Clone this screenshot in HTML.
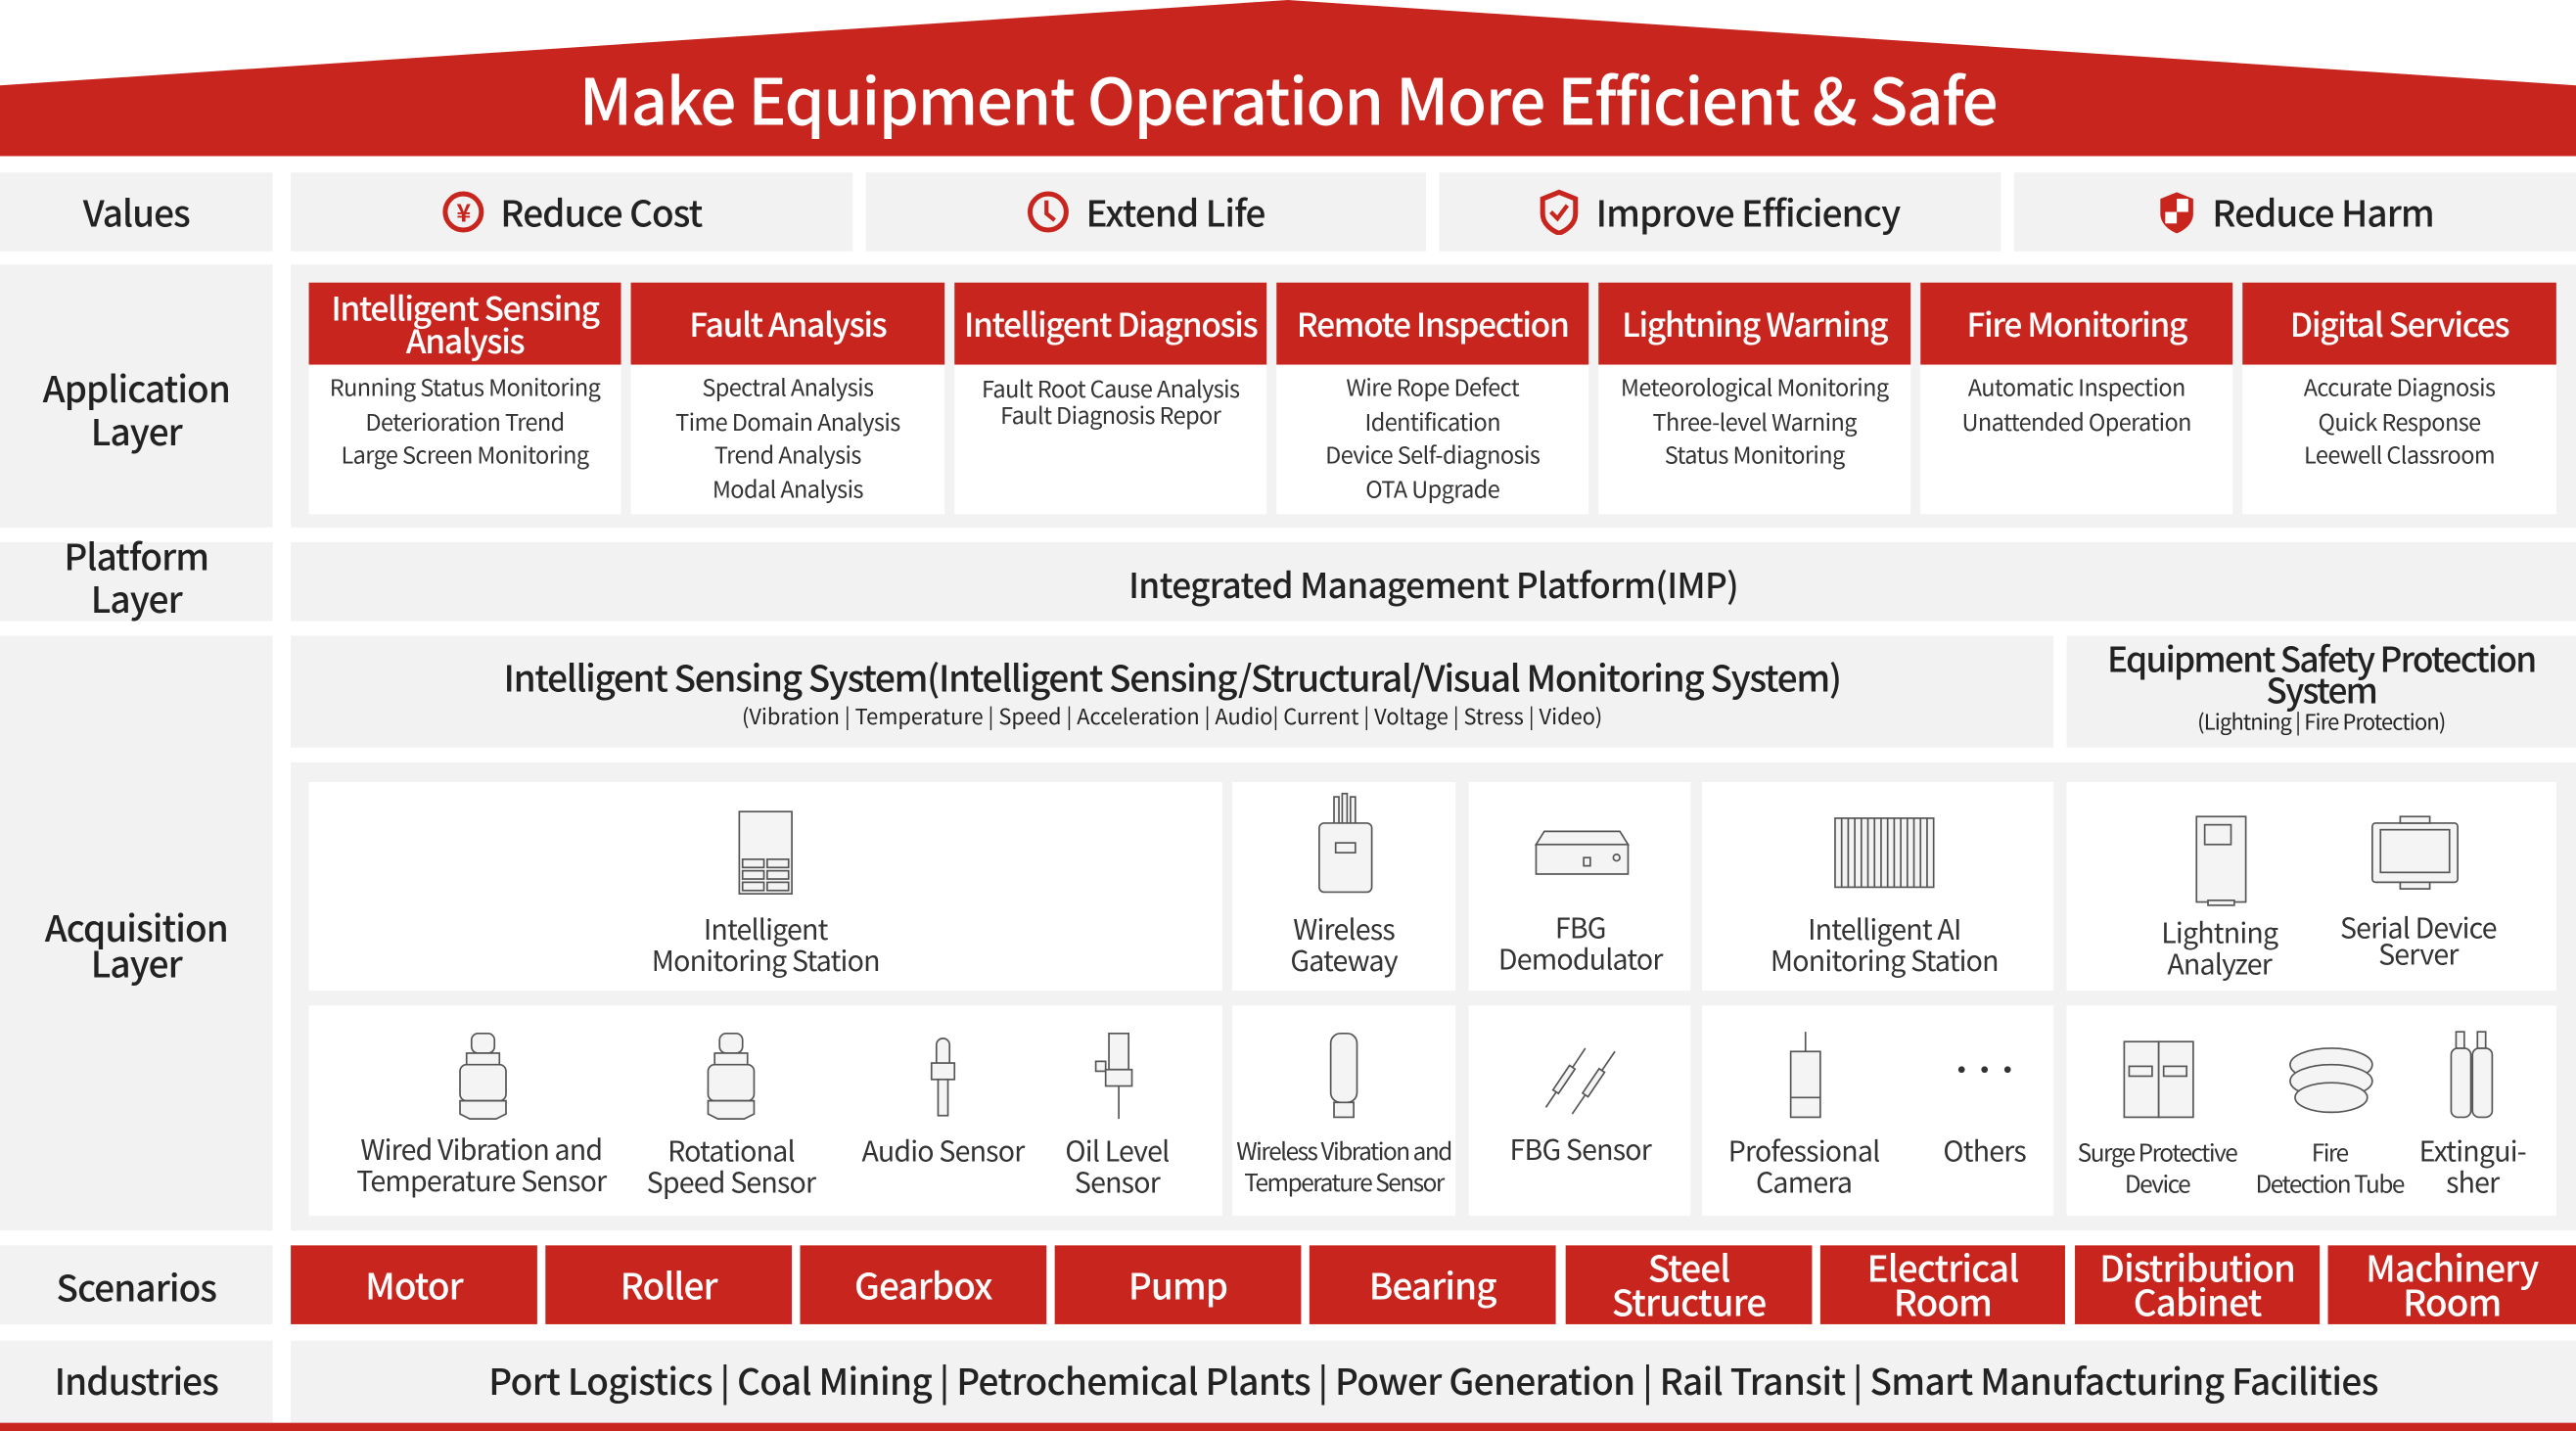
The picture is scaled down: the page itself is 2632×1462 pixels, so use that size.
<!DOCTYPE html>
<html><head><meta charset="utf-8"><style>
*{margin:0;padding:0;box-sizing:border-box}
html,body{width:2632px;height:1462px;overflow:hidden;background:#fff}
#s{position:absolute;left:0;top:0;width:1568px;height:871px;transform:scale(1.67857);transform-origin:0 0;font-family:"Noto Sans CJK SC","Liberation Sans",sans-serif;color:#222;letter-spacing:-0.03em}
.a{position:absolute}
.g{position:absolute;background:#f2f2f2}
.w{position:absolute;background:#fff}
.r{position:absolute;background:#c9251f;color:#fff}
.c{display:flex;align-items:center;justify-content:center;text-align:center}
.lbl{font-size:22px;line-height:26px;font-weight:500;letter-spacing:-0.025em}
.hd{font-size:20px;line-height:20px;font-weight:500;letter-spacing:-0.04em}
.bd{position:absolute;top:222px;height:91px;background:#fff;font-size:14px;line-height:20.5px;text-align:center;padding-top:4px;color:#333;letter-spacing:-0.025em}
.dv{position:absolute;text-align:center;font-size:17px;line-height:19px;color:#333;transform:translateX(-50%);white-space:nowrap}
.sm{font-size:14.5px;letter-spacing:-0.06em}
svg.ic{position:absolute;overflow:visible}
svg.ic *{stroke:#555;stroke-width:1;fill:#f4f4f4}
</style></head><body><div id="s">
<svg class="a" style="left:0;top:0" width="1568" height="100"><polygon points="0,52 784,0 1568,52 1568,95 0,95" fill="#c9251f"/></svg>
<div class="a c" style="left:0;top:36px;width:1568px;height:48px;color:#fff;font-size:39px;font-weight:500;letter-spacing:-0.022em">Make Equipment Operation More Efficient &amp; Safe</div>

<div class="g c lbl" style="left:0;top:105px;width:166px;height:48px">Values</div>
<div class="g c lbl" style="left:177px;top:105px;width:342px;height:48px"><svg width="26" height="26" style="margin-right:10px"><circle cx="13" cy="13" r="11" fill="none" stroke="#c9251f" stroke-width="3"/><text x="13" y="19" font-size="15" fill="#c9251f" text-anchor="middle" font-weight="bold">¥</text></svg>Reduce Cost</div>
<div class="g c lbl" style="left:527px;top:105px;width:341px;height:48px"><svg width="26" height="26" style="margin-right:10px"><circle cx="13" cy="13" r="11" fill="none" stroke="#c9251f" stroke-width="3"/><path d="M12 6v8l5 4" fill="none" stroke="#c9251f" stroke-width="2.5"/></svg>Extend Life</div>
<div class="g c lbl" style="left:876px;top:105px;width:342px;height:48px"><svg width="24" height="28" style="margin-right:10px"><path d="M12 2L22 6v9c0 6-5 10-10 12C7 25 2 21 2 15V6z" fill="none" stroke="#c9251f" stroke-width="3"/><path d="M7 14l4 4 6-8" fill="none" stroke="#c9251f" stroke-width="2.5"/></svg>Improve Efficiency</div>
<div class="g c lbl" style="left:1226px;top:105px;width:342px;height:48px"><svg width="24" height="28" style="margin-right:10px"><path d="M12 2L22 6v9c0 6-5 10-10 12C7 25 2 21 2 15V6z" fill="#c9251f"/><rect x="12" y="6" width="7" height="8" fill="#fff"/><rect x="5" y="14" width="7" height="7" fill="#fff"/></svg>Reduce Harm</div>

<div class="g c lbl" style="left:0;top:161px;width:166px;height:160px;padding-top:15px">Application<br>Layer</div>
<div class="g" style="left:177px;top:161px;width:1391px;height:160px"></div>
<div class="r c hd" style="left:188px;top:172px;width:190px;height:50px">Intelligent Sensing<br>Analysis</div>
<div class="r c hd" style="left:384px;top:172px;width:191px;height:50px">Fault Analysis</div>
<div class="r c hd" style="left:581px;top:172px;width:190px;height:50px">Intelligent Diagnosis</div>
<div class="r c hd" style="left:777px;top:172px;width:190px;height:50px">Remote Inspection</div>
<div class="r c hd" style="left:973px;top:172px;width:190px;height:50px">Lightning Warning</div>
<div class="r c hd" style="left:1169px;top:172px;width:190px;height:50px">Fire Monitoring</div>
<div class="r c hd" style="left:1365px;top:172px;width:191px;height:50px">Digital Services</div>
<div class="bd" style="left:188px;width:190px">Running Status Monitoring<br>Deterioration Trend<br>Large Screen Monitoring</div>
<div class="bd" style="left:384px;width:191px">Spectral Analysis<br>Time Domain Analysis<br>Trend Analysis<br>Modal Analysis</div>
<div class="bd" style="left:581px;width:190px;line-height:16px;padding-top:7px">Fault Root Cause Analysis<br>Fault Diagnosis Repor</div>
<div class="bd" style="left:777px;width:190px">Wire Rope Defect<br>Identification<br>Device Self-diagnosis<br>OTA Upgrade</div>
<div class="bd" style="left:973px;width:190px">Meteorological Monitoring<br>Three-level Warning<br>Status Monitoring</div>
<div class="bd" style="left:1169px;width:190px">Automatic Inspection<br>Unattended Operation</div>
<div class="bd" style="left:1365px;width:191px">Accurate Diagnosis<br>Quick Response<br>Leewell Classroom</div>

<div class="g c lbl" style="left:0;top:330px;width:166px;height:48px;padding-bottom:6px">Platform<br>Layer</div>
<div class="g c" style="left:177px;top:330px;width:1391px;height:48px;font-size:21px;font-weight:500;padding-top:4px;letter-spacing:-0.02em">Integrated Management Platform(IMP)</div>

<div class="g c lbl" style="left:0;top:387px;width:166px;height:362px;padding-top:14px;line-height:22px">Acquisition<br>Layer</div>
<div class="g" style="left:177px;top:387px;width:1073px;height:68px;text-align:center"><div style="font-size:22px;line-height:26px;margin-top:12px;font-weight:500;letter-spacing:-0.035em">Intelligent Sensing System(Intelligent Sensing/Structural/Visual Monitoring System)</div><div style="font-size:13px;line-height:16px;margin-top:3px;letter-spacing:0">(Vibration | Temperature | Speed | Acceleration | Audio| Current | Voltage | Stress | Video)</div></div>
<div class="g" style="left:1258px;top:387px;width:310px;height:68px;text-align:center"><div style="font-size:21px;line-height:19px;margin-top:5px;letter-spacing:-0.05em;font-weight:500">Equipment Safety Protection<br>System</div><div style="font-size:13px;line-height:16px;margin-top:1px">(Lightning | Fire Protection)</div></div>
<div class="g" style="left:177px;top:464px;width:1391px;height:285px"></div>
<div class="w" style="left:188px;top:476px;width:556px;height:127px"></div>
<div class="w" style="left:750px;top:476px;width:136px;height:127px"></div>
<div class="w" style="left:894px;top:476px;width:135px;height:127px"></div>
<div class="w" style="left:1036px;top:476px;width:214px;height:127px"></div>
<div class="w" style="left:1258px;top:476px;width:298px;height:127px"></div>
<div class="w" style="left:188px;top:612px;width:556px;height:128px"></div>
<div class="w" style="left:750px;top:612px;width:136px;height:128px"></div>
<div class="w" style="left:894px;top:612px;width:135px;height:128px"></div>
<div class="w" style="left:1036px;top:612px;width:214px;height:128px"></div>
<div class="w" style="left:1258px;top:612px;width:298px;height:128px"></div>

<!-- icons top -->
<svg class="ic" style="left:449px;top:493px" width="34" height="52"><rect x="1" y="1" width="32" height="50"/><rect x="3" y="30" width="13" height="5"/><rect x="18" y="30" width="13" height="5"/><rect x="3" y="37" width="13" height="5"/><rect x="18" y="37" width="13" height="5"/><rect x="3" y="44" width="13" height="5"/><rect x="18" y="44" width="13" height="5"/></svg>
<svg class="ic" style="left:802px;top:483px" width="34" height="62"><rect x="10" y="2" width="3" height="18"/><rect x="15" y="0" width="3" height="20"/><rect x="20" y="2" width="3" height="18"/><rect x="1" y="18" width="32" height="42" rx="3"/><rect x="11" y="30" width="12" height="6"/></svg>
<svg class="ic" style="left:934px;top:505px" width="58" height="28"><path d="M6 1h46l5 8H1z"/><rect x="1" y="9" width="56" height="18"/><rect x="30" y="17" width="4" height="5"/><circle cx="50" cy="17" r="2"/></svg>
<svg class="ic" style="left:1113px;top:497px" width="68" height="44"><rect x="4" y="1" width="60" height="42"/><path d="M8 1v42M12 1v42M16 1v42M20 1v42M24 1v42M28 1v42M32 1v42M36 1v42M40 1v42M44 1v42M48 1v42M52 1v42M56 1v42M60 1v42"/></svg>
<svg class="ic" style="left:1336px;top:496px" width="32" height="56"><rect x="1" y="1" width="30" height="52"/><rect x="6" y="6" width="16" height="12"/><rect x="8" y="52" width="16" height="3"/></svg>
<svg class="ic" style="left:1441px;top:497px" width="58" height="44"><rect x="3" y="4" width="52" height="36" rx="2"/><rect x="8" y="8" width="42" height="26"/><rect x="20" y="0" width="18" height="4"/><rect x="20" y="40" width="18" height="4"/></svg>
<!-- icons bottom -->
<svg class="ic" style="left:278px;top:628px" width="32" height="54"><rect x="9" y="1" width="14" height="12" rx="4"/><rect x="6" y="13" width="20" height="8"/><rect x="2" y="20" width="28" height="22" rx="4"/><path d="M2 42h28v8l-6 3H8l-6-3z"/></svg>
<svg class="ic" style="left:429px;top:628px" width="32" height="54"><rect x="9" y="1" width="14" height="12" rx="4"/><rect x="6" y="13" width="20" height="8"/><rect x="2" y="20" width="28" height="22" rx="4"/><path d="M2 42h28v8l-6 3H8l-6-3z"/></svg>
<svg class="ic" style="left:564px;top:631px" width="20" height="50"><rect x="6" y="1" width="8" height="22" rx="4"/><rect x="3" y="16" width="14" height="10"/><rect x="7" y="26" width="6" height="22"/></svg>
<svg class="ic" style="left:665px;top:628px" width="30" height="54"><rect x="10" y="1" width="12" height="22"/><rect x="2" y="18" width="6" height="6"/><rect x="8" y="23" width="16" height="10"/><path d="M16 33v20"/></svg>
<svg class="ic" style="left:808px;top:628px" width="20" height="54"><rect x="2" y="1" width="16" height="42" rx="6"/><rect x="4" y="43" width="12" height="9"/></svg>
<svg class="ic" style="left:937px;top:632px" width="52" height="48"><path d="M4 42L28 6M20 46L46 8"/><rect x="13" y="16" width="4" height="18" transform="rotate(34 15 25)"/><rect x="31" y="18" width="4" height="18" transform="rotate(34 33 27)"/></svg>
<svg class="ic" style="left:1088px;top:628px" width="22" height="54"><path d="M11 0v12"/><rect x="2" y="12" width="18" height="40"/><path d="M2 40h18"/></svg>
<svg class="a" style="left:1190px;top:647px" width="36" height="8"><circle cx="4" cy="4" r="2" fill="#333"/><circle cx="18" cy="4" r="2" fill="#333"/><circle cx="32" cy="4" r="2" fill="#333"/></svg>
<svg class="ic" style="left:1292px;top:633px" width="44" height="48"><rect x="1" y="1" width="21" height="46"/><rect x="22" y="1" width="21" height="46"/><rect x="4" y="16" width="14" height="6"/><rect x="25" y="16" width="14" height="6"/></svg>
<svg class="ic" style="left:1392px;top:636px" width="54" height="44"><ellipse cx="27" cy="12" rx="25" ry="10"/><ellipse cx="27" cy="22" rx="25" ry="10"/><ellipse cx="27" cy="32" rx="22" ry="9"/></svg>
<svg class="ic" style="left:1490px;top:626px" width="30" height="56"><rect x="2" y="12" width="12" height="42" rx="4"/><rect x="15" y="12" width="12" height="42" rx="4"/><rect x="5" y="2" width="5" height="10"/><rect x="18" y="2" width="5" height="10"/></svg>

<!-- device labels -->
<div class="dv" style="left:466px;top:555px">Intelligent<br>Monitoring Station</div>
<div class="dv" style="left:818px;top:555px">Wireless<br>Gateway</div>
<div class="dv" style="left:962px;top:554px">FBG<br>Demodulator</div>
<div class="dv" style="left:1147px;top:555px">Intelligent AI<br>Monitoring Station</div>
<div class="dv" style="left:1351px;top:557px">Lightning<br>Analyzer</div>
<div class="dv" style="left:1472px;top:556px;line-height:16px">Serial Device<br>Server</div>
<div class="dv" style="left:293px;top:689px">Wired Vibration and<br>Temperature Sensor</div>
<div class="dv" style="left:445px;top:690px">Rotational<br>Speed Sensor</div>
<div class="dv" style="left:574px;top:690px">Audio Sensor</div>
<div class="dv" style="left:680px;top:690px">Oil Level<br>Sensor</div>
<div class="dv sm" style="left:818px;top:691px">Wireless Vibration and<br>Temperature Sensor</div>
<div class="dv" style="left:962px;top:689px">FBG Sensor</div>
<div class="dv" style="left:1098px;top:690px">Professional<br>Camera</div>
<div class="dv" style="left:1208px;top:690px">Others</div>
<div class="dv sm" style="left:1313px;top:692px">Surge Protective<br>Device</div>
<div class="dv sm" style="left:1418px;top:692px">Fire<br>Detection Tube</div>
<div class="dv" style="left:1505px;top:690px">Extingui-<br>sher</div>

<div class="g c lbl" style="left:0;top:758px;width:166px;height:48px;padding-top:2px">Scenarios</div>
<div class="r c lbl" style="left:177px;top:758px;width:150px;height:48px">Motor</div>
<div class="r c lbl" style="left:332px;top:758px;width:150px;height:48px">Roller</div>
<div class="r c lbl" style="left:487px;top:758px;width:150px;height:48px">Gearbox</div>
<div class="r c lbl" style="left:642px;top:758px;width:150px;height:48px">Pump</div>
<div class="r c lbl" style="left:797px;top:758px;width:150px;height:48px">Bearing</div>
<div class="r c lbl" style="left:953px;top:758px;width:150px;height:48px;line-height:21px">Steel<br>Structure</div>
<div class="r c lbl" style="left:1108px;top:758px;width:149px;height:48px;line-height:21px">Electrical<br>Room</div>
<div class="r c lbl" style="left:1263px;top:758px;width:149px;height:48px;line-height:21px">Distribution<br>Cabinet</div>
<div class="r c lbl" style="left:1417px;top:758px;width:151px;height:48px;line-height:21px">Machinery<br>Room</div>

<div class="g c lbl" style="left:0;top:816px;width:166px;height:50px;padding-bottom:3px">Industries</div>
<div class="g c lbl" style="left:177px;top:816px;width:1391px;height:50px;letter-spacing:-0.017em;padding-bottom:3px">Port Logistics | Coal Mining | Petrochemical Plants | Power Generation | Rail Transit | Smart Manufacturing Facilities</div>
<div class="a" style="left:0;top:866px;width:1568px;height:5px;background:#c9251f"></div>
</div></body></html>
